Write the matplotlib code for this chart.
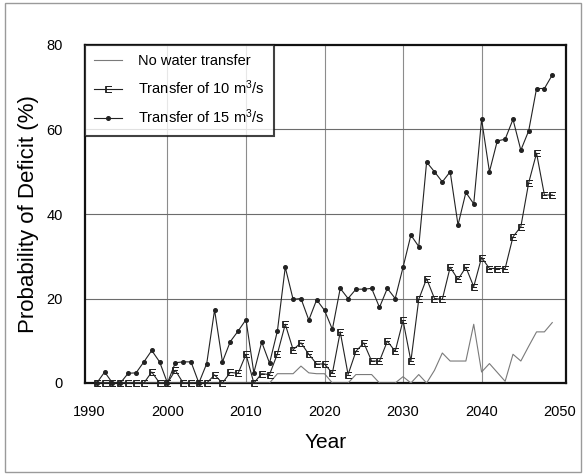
import matplotlib
matplotlib.use("Agg")
import matplotlib.pyplot as plt
from matplotlib.patches import Rectangle

plt.rcParams['font.family'] = ['Liberation Sans', 'DejaVu Sans']
plt.rcParams['mathtext.fontset'] = 'custom'
plt.rcParams['mathtext.rm'] = 'Liberation Sans'
plt.rcParams['mathtext.it'] = 'Liberation Sans'

years = list(range(1991, 2050))

no_transfer = [0, 0, 0, 0, 0, 0, 0, 0, 0, 0,
               0, 0, 0, 0, 0, 0, 0, 0, 0, 0,
               0, 0, 0, 2.2, 2.2, 2.2, 4.0, 2.4, 2.2, 2.2,
               0, 0, 0, 2.0, 2.0, 2.0, 0, 0, 0, 1.5,
               0, 2.0, 0, 3.0, 7.1, 5.2, 5.2, 5.2, 13.9, 2.6,
               4.6, 2.5, 0.4, 6.8, 5.2, 8.7, 12.1, 12.1, 14.3]

transfer_10 = [0, 0, 0, 0, 0, 0, 0, 2.6, 0, 0,
               3.0, 0, 0, 0, 0, 1.9, 0, 2.5, 2.3, 6.8,
               0, 2.2, 2.0, 6.9, 13.9, 7.9, 9.5, 6.8, 4.5, 4.5,
               2.3, 12.1, 2.0, 7.5, 9.5, 5.2, 5.2, 9.9, 7.5, 14.8,
               5.2, 19.8, 24.7, 20.0, 19.8, 27.4, 24.5, 27.4, 22.8, 29.7,
               27.1, 27.1, 27.1, 34.6, 37.0, 47.4, 54.4, 44.5, 44.5]

transfer_15 = [0, 2.6, 0, 0, 2.3, 2.4, 5.0, 7.7, 5.0, 0,
               4.8, 5.0, 5.0, 0, 4.6, 17.3, 5.0, 9.8, 12.3, 15.0,
               2.4, 9.7, 4.7, 12.3, 27.4, 19.8, 20.0, 14.9, 19.7, 17.2,
               12.7, 22.4, 20.0, 22.2, 22.2, 22.4, 17.9, 22.4, 20.0, 27.4,
               35.0, 32.3, 52.3, 50.0, 47.6, 50.0, 37.4, 45.1, 42.4, 62.4,
               50.0, 57.3, 57.7, 62.4, 55.1, 59.7, 69.7, 69.7, 72.9]

labels = ['No water transfer', r'Transfer of 10 m$^{3}$/s', r'Transfer of 15 m$^{3}$/s']
x_ticks = [1990, 2000, 2010, 2020, 2030, 2040, 2050]
y_ticks = [0, 20, 40, 60, 80]

W, H = 586, 475
fig = plt.figure(figsize=(W / 100, H / 100), dpi=100)
ax = fig.add_axes([85 / W, 1 - 383 / H, (566 - 85) / W, (383 - 45) / H])

ax.plot(years, no_transfer, color='#7a7a7a', lw=0.8, label=labels[0], zorder=3)
ax.plot(years, transfer_10, color='#222222', lw=0.8, marker=r'$\mathrm{E}$',
        markersize=5, markeredgewidth=0.6, label=labels[1], zorder=4, clip_on=False)
ax.plot(years, transfer_15, color='#222222', lw=0.8, marker='o', markersize=2.6,
        label=labels[2], zorder=5, clip_on=False)

ax.set_xlim(1989.5, 2050.75)
ax.set_ylim(0, 80)
ax.set_xticks(x_ticks)
ax.set_yticks(y_ticks)
ax.tick_params(length=0, labelsize=10.5, pad=16)
for v in x_ticks[1:-1]:
    ax.axvline(v, color='#8c8c8c', lw=0.8, zorder=1)
for v in y_ticks[1:-1]:
    ax.axhline(v, color='#6c6c6c', lw=0.8, zorder=1)
for s in ax.spines.values():
    s.set_linewidth(1.6)
    s.set_color('#111111')

ax.set_xlabel('Year', fontsize=15, labelpad=10)
ax.set_ylabel('Probability of Deficit (%)', fontsize=16, labelpad=5)

leg = ax.legend(loc='upper left', bbox_to_anchor=(0, 1), borderaxespad=0,
                fontsize=10.5, frameon=True, fancybox=False, edgecolor='#111111',
                handlelength=1.9, handletextpad=1.1, labelspacing=0.7, borderpad=0.65)
leg.get_frame().set_linewidth(1.5)
leg.set_zorder(10)

fig.patches.append(Rectangle((5 / W, 3 / H), (581 - 5) / W, (472 - 3) / H,
                             transform=fig.transFigure, fill=False,
                             edgecolor='#9a9a9a', lw=1.0))

fig.savefig('out.png', dpi=100)
